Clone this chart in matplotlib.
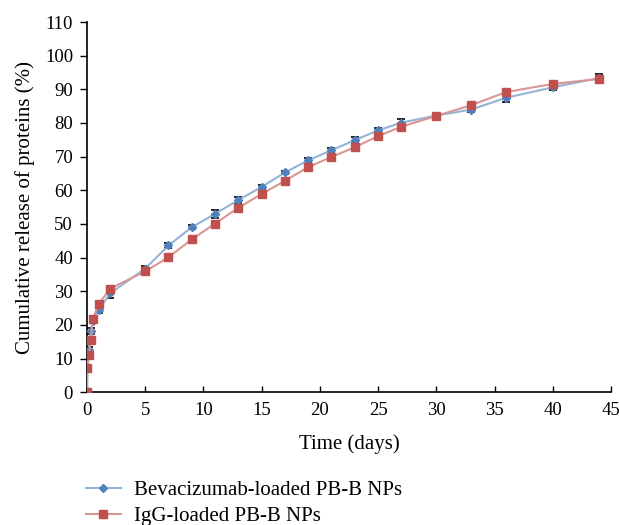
import matplotlib
matplotlib.use("Agg")
import matplotlib.pyplot as plt
from matplotlib.lines import Line2D

days = [0, 0.04, 0.17, 0.33, 0.5, 1, 2, 5, 7, 9, 11, 13, 15, 17, 19, 21, 23, 25, 27, 30, 33, 36, 40, 44]
beva = [0, 7.5, 12.5, 18.2, 21.3, 24.5, 29.4, 36.7, 43.6, 49.0, 53.0, 57.1, 61.0, 65.3, 68.9, 71.9, 74.9, 77.8, 80.1, 82.2, 84.0, 87.5, 90.6, 93.4]
beva_err = [0, 0.6, 1.0, 0.8, 0.8, 1.0, 1.3, 0.8, 0.8, 0.6, 1.2, 0.9, 0.7, 0.5, 0.8, 0.6, 0.8, 0.6, 1.2, 0.9, 0.8, 1.3, 0.8, 1.2]
igg = [0, 7.2, 10.9, 15.5, 21.7, 26.2, 30.8, 35.9, 40.1, 45.4, 50.1, 54.8, 58.9, 62.8, 66.9, 69.9, 72.8, 76.1, 78.9, 82.1, 85.3, 89.2, 91.6, 93.1]
igg_err = [0, 0.5, 0.6, 0.6, 0.8, 0.8, 0.5, 0.9, 0.5, 1.0, 0.9, 0.5, 0.5, 0.5, 0.6, 0.5, 0.6, 0.6, 0.6, 0.7, 0.7, 0.9, 0.7, 0.8]

labels = ["Bevacizumab-loaded PB-B NPs", "IgG-loaded PB-B NPs"]

plt.rcParams['font.family'] = ['Liberation Serif', 'DejaVu Serif']

fig = plt.figure(figsize=(6.19, 5.25), dpi=100)
ax = fig.add_axes([0.1405, 0.253, 0.8465, 0.705])

blue_m = "#4F81BD"
blue_l = "#95B3D7"
red_m = "#C0504D"
red_l = "#D99694"

ax.errorbar(days, beva, yerr=beva_err, fmt='none', ecolor='black', elinewidth=1, capsize=3, capthick=1.2, zorder=2)
ax.errorbar(days, igg, yerr=igg_err, fmt='none', ecolor='black', elinewidth=1, capsize=3, capthick=1.2, zorder=2)
ax.plot(days, beva, color=blue_l, lw=1.5, marker='D', ms=4.5, mfc=blue_m, mec=blue_m, zorder=3)
ax.plot(days, igg, color=red_l, lw=1.5, marker='s', ms=6, mfc=red_m, mec=red_m, zorder=3)

ax.set_xlim(0, 45)
ax.set_ylim(0, 110)
ax.set_xticks(range(0, 46, 5))
ax.set_yticks(range(0, 111, 10))
for s in ['top', 'right']:
    ax.spines[s].set_visible(False)
for s in ['left', 'bottom']:
    ax.spines[s].set_color('black')
    ax.spines[s].set_linewidth(1.2)
ax.tick_params(axis='x', labelsize=13.5, direction='in', length=4, width=1, colors='black', pad=7)
ax.tick_params(axis='y', labelsize=13.5, direction='out', length=5, width=1, colors='black', pad=5)
ax.set_xlabel("Time (days)", fontsize=15, labelpad=11)
ax.set_ylabel("Cumulative release of proteins (%)", fontsize=15, labelpad=7)

handles = [
    Line2D([], [], color=blue_l, lw=1.5, marker='D', ms=4.5, mfc=blue_m, mec=blue_m),
    Line2D([], [], color=red_l, lw=1.5, marker='s', ms=6, mfc=red_m, mec=red_m),
]
fig.legend(handles, labels, loc='upper left', bbox_to_anchor=(0.125, 0.1), frameon=False,
           fontsize=15, handlelength=1.7, handletextpad=0.6, labelspacing=0.3, borderaxespad=0)

fig.savefig("out.png", dpi=100)
